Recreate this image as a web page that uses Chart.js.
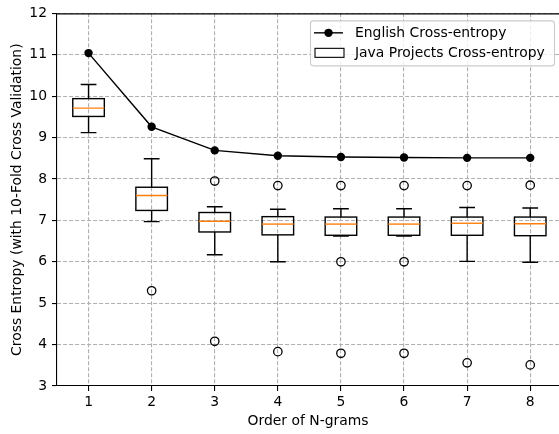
<!DOCTYPE html>
<html>
<head>
<meta charset="utf-8">
<script src="https://cdn.jsdelivr.net/npm/chart.js@4/dist/chart.umd.min.js"></script>
<style>
  html, body { margin: 0; padding: 0; background: #ffffff; }
  #wrap { width: 559px; height: 434px; }
</style>
</head>
<body>
<div id="wrap"><canvas id="c" width="559" height="434"></canvas></div>
<script>
// N-gram orders on the x axis
const nGramOrders = [1, 2, 3, 4, 5, 6, 7, 8];
const yTickValues = [3, 4, 5, 6, 7, 8, 9, 10, 11, 12];

// English corpus cross-entropy per order
const englishEntropy = [11.04, 9.26, 8.69, 8.56, 8.53, 8.52, 8.51, 8.51];

// Java projects cross-entropy, 10-fold cross validation summary per order
const javaWhiskerHigh = [10.28, 8.49, 7.33, 7.27, 7.28, 7.28, 7.31, 7.30];
const javaQ3          = [9.94, 7.80, 7.19, 7.09, 7.08, 7.08, 7.08, 7.08];
const javaMedian      = [9.71, 7.60, 6.98, 6.91, 6.91, 6.91, 6.93, 6.92];
const javaQ1          = [9.51, 7.24, 6.72, 6.65, 6.64, 6.64, 6.64, 6.63];
const javaWhiskerLow  = [9.12, 6.97, 6.17, 6.00, 6.62, 6.62, 6.01, 5.99];
const javaOutliers    = [[], [5.30], [7.95, 4.08], [7.84, 3.83], [7.84, 6.00, 3.79],
                         [7.84, 6.00, 3.79], [7.84, 3.56], [7.85, 3.51]];

const FONT = "'DejaVu Sans', 'Liberation Sans', sans-serif";
const FONT_SIZE = 13.9;

const outlierPoints = javaOutliers.flatMap((list, i) =>
  list.map(v => ({ x: nGramOrders[i], y: v })));

// Boxes, whiskers, caps and medians, placed through the chart scales
const boxPlotPlugin = {
  id: 'boxPlot',
  beforeDatasetsDraw(chart) {
    const { ctx, scales: { x, y } } = chart;
    ctx.save();
    ctx.lineCap = 'butt';
    nGramOrders.forEach((order, i) => {
      const cx = x.getPixelForValue(order);
      const bx0 = x.getPixelForValue(order - 0.25);
      const bx1 = x.getPixelForValue(order + 0.25);
      const cx0 = x.getPixelForValue(order - 0.125);
      const cx1 = x.getPixelForValue(order + 0.125);
      const yHi = y.getPixelForValue(javaWhiskerHigh[i]);
      const yQ3 = y.getPixelForValue(javaQ3[i]);
      const yMed = y.getPixelForValue(javaMedian[i]);
      const yQ1 = y.getPixelForValue(javaQ1[i]);
      const yLo = y.getPixelForValue(javaWhiskerLow[i]);

      ctx.strokeStyle = '#000000';
      ctx.lineWidth = 1.4;
      ctx.beginPath();
      ctx.moveTo(cx, yQ3); ctx.lineTo(cx, yHi);
      ctx.moveTo(cx, yQ1); ctx.lineTo(cx, yLo);
      ctx.moveTo(cx0, yHi); ctx.lineTo(cx1, yHi);
      ctx.moveTo(cx0, yLo); ctx.lineTo(cx1, yLo);
      ctx.stroke();
      ctx.strokeRect(bx0, yQ3, bx1 - bx0, yQ1 - yQ3);

      ctx.strokeStyle = '#ff7f0e';
      ctx.beginPath();
      ctx.moveTo(bx0, yMed); ctx.lineTo(bx1, yMed);
      ctx.stroke();
    });
    ctx.restore();
  },
  afterDraw(chart) {
    const { ctx, chartArea } = chart;
    ctx.save();
    // top frame line
    ctx.strokeStyle = '#000000';
    ctx.lineWidth = 1.1;
    ctx.beginPath();
    ctx.moveTo(chartArea.left, chartArea.top + 0.5);
    ctx.lineTo(chartArea.right, chartArea.top + 0.5);
    ctx.stroke();

    // legend box in the upper right corner
    const lx = chartArea.right - 249, ly = chartArea.top + 7;
    const lw = 244, lh = 45;
    ctx.beginPath();
    ctx.roundRect(lx + 0.5, ly + 0.5, lw, lh, 3);
    ctx.fillStyle = 'rgba(255,255,255,0.8)';
    ctx.fill();
    ctx.strokeStyle = '#cccccc';
    ctx.lineWidth = 1.1;
    ctx.stroke();

    const hx0 = lx + 4, hx1 = lx + 33;
    const row1 = ly + 12.5, row2 = ly + 32.5;
    const english = chart.data.datasets[0];
    const java = chart.data.datasets[1];

    ctx.strokeStyle = '#000000';
    ctx.lineWidth = 1.4;
    ctx.beginPath();
    ctx.moveTo(hx0, row1); ctx.lineTo(hx1, row1);
    ctx.stroke();
    ctx.beginPath();
    ctx.arc((hx0 + hx1) / 2, row1, 4.2, 0, Math.PI * 2);
    ctx.fillStyle = '#000000';
    ctx.fill();

    ctx.fillStyle = '#ffffff';
    ctx.fillRect(hx0 + 1, row2 - 4.5, hx1 - hx0, 9);
    ctx.lineWidth = 1.1;
    ctx.strokeRect(hx0 + 1, row2 - 4.5, hx1 - hx0, 9);

    ctx.fillStyle = '#000000';
    ctx.font = FONT_SIZE + 'px ' + FONT;
    ctx.textAlign = 'left';
    ctx.textBaseline = 'middle';
    ctx.fillText(english.label, lx + 45, row1 + 0.5);
    ctx.fillText(java.label, lx + 45, row2 + 0.5);
    ctx.restore();
  }
};

new Chart(document.getElementById('c'), {
  type: 'scatter',
  data: {
    datasets: [
      {
        type: 'line',
        label: 'English Cross-entropy',
        data: nGramOrders.map((o, i) => ({ x: o, y: englishEntropy[i] })),
        borderColor: '#000000',
        backgroundColor: '#000000',
        borderWidth: 1.4,
        pointRadius: 4.2,
        pointHoverRadius: 4.2,
        pointBorderWidth: 0,
        tension: 0,
        fill: false,
        order: 0
      },
      {
        label: 'Java Projects Cross-entropy',
        data: outlierPoints,
        showLine: false,
        pointStyle: 'circle',
        pointRadius: 4.2,
        pointHoverRadius: 4.2,
        pointBorderWidth: 1.3,
        borderColor: '#000000',
        backgroundColor: 'rgba(0,0,0,0)',
        order: 1
      }
    ]
  },
  options: {
    responsive: false,
    animation: false,
    devicePixelRatio: 1,
    layout: { autoPadding: false, padding: { top: 10, right: 0, left: 0, bottom: 0 } },
    plugins: { legend: { display: false }, tooltip: { enabled: false } },
    scales: {
      x: {
        type: 'linear',
        min: 0.5,
        max: 8.456,
        afterBuildTicks: (scale) => { scale.ticks = nGramOrders.map(v => ({ value: v })); },
        afterFit: (scale) => { scale.height = 48; },
        ticks: {
          color: '#000000',
          font: { family: FONT, size: FONT_SIZE },
          padding: 3,
          maxRotation: 0,
          autoSkip: false
        },
        grid: {
          color: '#b0b0b0',
          lineWidth: 1.1,
          tickColor: '#000000',
          tickLength: 5,
          tickWidth: 1.1,
          tickBorderDash: []
        },
        border: { display: true, color: '#000000', width: 1.1, dash: [4, 2] },
        title: {
          display: true,
          text: 'Order of N-grams',
          color: '#000000',
          font: { family: FONT, size: FONT_SIZE },
          padding: { top: 0, bottom: 4.5 }
        }
      },
      y: {
        type: 'linear',
        min: 3,
        max: 12,
        afterBuildTicks: (scale) => { scale.ticks = yTickValues.map(v => ({ value: v })); },
        afterFit: (scale) => { scale.width = 57; },
        ticks: {
          color: '#000000',
          font: { family: FONT, size: FONT_SIZE },
          padding: 5
        },
        grid: {
          color: '#b0b0b0',
          lineWidth: 1.1,
          tickColor: '#000000',
          tickLength: 5,
          tickWidth: 1.1,
          tickBorderDash: []
        },
        border: { display: true, color: '#000000', width: 1.1, dash: [4, 2] },
        title: {
          display: true,
          text: 'Cross Entropy (with 10-Fold Cross Validation)',
          color: '#000000',
          font: { family: FONT, size: FONT_SIZE },
          padding: { top: 9, bottom: 0 }
        }
      }
    }
  },
  plugins: [boxPlotPlugin]
});
</script>
</body>
</html>
